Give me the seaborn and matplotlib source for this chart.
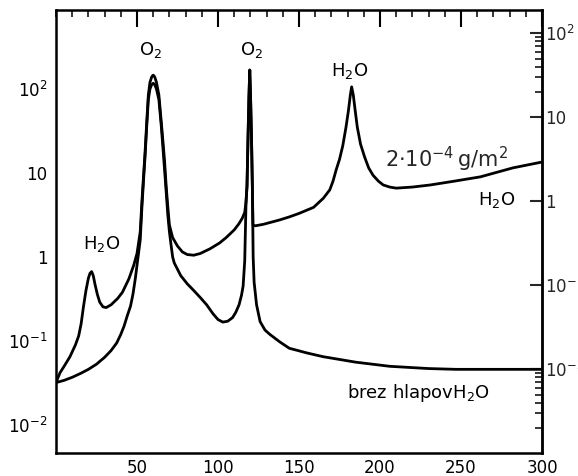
import numpy as np
import pandas as pd
import matplotlib
matplotlib.use("Agg")
import matplotlib.pyplot as plt
import matplotlib.ticker as mticker
import seaborn as sns

# frequency (GHz) and attenuation
# curve with water vapour (2e-4 g/m^2)
freq_vapor = [0, 2.5, 5, 8.6, 12, 14, 15.5, 17, 18.5, 20, 21, 22, 23, 24, 25.5, 27, 29, 31, 34, 38,
              41, 45, 48, 50,
              52, 53, 54, 55, 56, 57, 58, 59, 59.5, 60, 60.5, 61, 62, 63.5, 65, 66, 67, 68, 69, 70,
              72, 75, 78, 81, 85, 89, 95, 101, 105, 110, 113, 115, 116.5, 117.3, 117.9, 118.5, 119.1,
              119.6, 120.1, 120.7, 121.2, 121.6, 123, 128, 138, 144, 150, 159, 165, 169, 171, 173,
              175, 177, 179, 180.5, 181.7, 182.5, 183.5, 184.7, 186, 188, 190.5, 193, 195.7, 199,
              202, 206, 210, 220, 231, 246, 262, 282, 300]
atten_vapor = [0.032, 0.042, 0.05, 0.065, 0.09, 0.115, 0.16, 0.26, 0.4, 0.56, 0.64, 0.67, 0.6, 0.48,
               0.36, 0.29, 0.255, 0.25, 0.27, 0.32,
               0.38, 0.55, 0.8, 1.1,
               2, 4.5, 9, 18, 40, 85, 120, 138, 143, 146, 143, 138, 120, 85, 40, 24, 14, 7, 4, 2.4,
               1.7, 1.35, 1.15, 1.07, 1.05, 1.1, 1.25, 1.47, 1.7, 2.1, 2.5, 2.9, 3.4, 4.5, 7, 25, 80,
               168, 80, 25, 7, 2.4, 2.35, 2.45, 2.76, 3.0, 3.3, 3.9, 5, 6.3, 8, 11,
               14.5, 21, 35, 55, 85, 106, 85, 55, 35, 22, 15.5, 11.5, 9.4, 8,
               7.2, 6.8, 6.6, 6.8, 7.2, 8, 9, 11.5, 13.5]

# curve without water vapour (brez hlapov H2O)
freq_dry = [0, 5, 10, 15, 20, 25, 30, 34, 37.5, 40, 42, 44, 46, 47.5, 49, 50.5,
            52, 53, 54, 55, 56, 57, 58, 59, 60, 61, 62, 63.5, 65, 66, 67, 68, 69, 70, 71, 72, 73,
            77, 81, 85, 89, 93, 97, 100, 103, 106, 109, 111, 113, 114.5, 115.5, 116.5, 117.3,
            117.9, 118.5, 119.1, 119.6, 120.1, 120.7, 121.2, 121.7, 122.3, 123.8, 126, 129, 132,
            138, 144, 155, 165, 185, 206, 230, 247, 270, 300]
atten_dry = [0.032, 0.034, 0.037, 0.041, 0.046, 0.053, 0.064, 0.077, 0.095, 0.12, 0.15, 0.2, 0.26,
             0.36, 0.56, 0.95,
             1.6, 3.8, 8, 16, 36, 75, 100, 112, 117, 112, 100, 75, 36, 20, 11, 6, 3.2, 2, 1.4, 1.0,
             0.85, 0.6, 0.48, 0.4, 0.33, 0.27, 0.21, 0.18, 0.168, 0.172, 0.19, 0.22, 0.27, 0.35,
             0.45, 0.9, 4.5,
             7, 25, 80, 168, 80, 25, 7, 1.0, 0.5, 0.27, 0.17, 0.135, 0.12,
             0.098, 0.082, 0.072, 0.065, 0.056, 0.05, 0.047, 0.046, 0.046, 0.046]

x_ticks = [50, 100, 150, 200, 250, 300]
y_ticks = [1e-2, 1e-1, 1, 10, 1e2]
y_ticklabels = ["$10^{-2}$", "$10^{-1}$", "1", "10", "$10^2$"]
right_factor = 4.6  # right-hand scale is the left one divided by this

sns.set_style("white")
plt.rcParams["font.family"] = ["DejaVu Sans"]
plt.rcParams["mathtext.default"] = "regular"

fig = plt.figure(figsize=(5.78, 4.76), dpi=100)
ax = fig.add_axes([56 / 578, 1 - 453 / 476, (542 - 56) / 578, (453 - 10) / 476])

df_vap = pd.DataFrame({"f": freq_vapor, "a": atten_vapor})
df_dry = pd.DataFrame({"f": freq_dry, "a": atten_dry})
sns.lineplot(data=df_vap, x="f", y="a", ax=ax, color="black", lw=2.0, sort=False, estimator=None)
sns.lineplot(data=df_dry, x="f", y="a", ax=ax, color="black", lw=2.0, sort=False, estimator=None)

ax.set_yscale("log")
ax.set_xlim(0, 300)
ax.set_ylim(10 ** -2.333, 10 ** 2.94)
ax.set_xlabel("")
ax.set_ylabel("")

for s in ax.spines.values():
    s.set_linewidth(1.8)
    s.set_color("black")

ax.xaxis.set_major_locator(mticker.FixedLocator(x_ticks))
ax.xaxis.set_minor_locator(mticker.MultipleLocator(10))
ax.yaxis.set_major_locator(mticker.FixedLocator(y_ticks))
ax.yaxis.set_major_formatter(mticker.FixedFormatter(y_ticklabels))
ax.yaxis.set_minor_locator(mticker.LogLocator(base=10, subs=np.arange(2, 10), numticks=20))
ax.yaxis.set_minor_formatter(mticker.NullFormatter())
ax.tick_params(axis="both", which="major", direction="in", length=12, width=1.5,
               labelsize=12, top=True, right=False, colors="black")
ax.tick_params(axis="both", which="minor", direction="in", length=5, width=1.3,
               top=True, right=False)
ax.tick_params(axis="y", which="major", length=9, pad=6)
ax.tick_params(axis="x", which="major", pad=4)

sec = ax.secondary_yaxis("right", functions=(lambda v: v / right_factor, lambda v: v * right_factor))
sec.yaxis.set_major_locator(mticker.FixedLocator(y_ticks))
sec.yaxis.set_major_formatter(mticker.FixedFormatter(y_ticklabels))
sec.yaxis.set_minor_locator(mticker.FixedLocator([20, 30, 40, 50, 60, 70, 80, 90,
                                                   0.002, 0.003, 0.004, 0.005, 0.006, 0.007, 0.008, 0.009]))
sec.yaxis.set_minor_formatter(mticker.NullFormatter())
sec.tick_params(which="major", direction="in", length=9, width=1.5, labelsize=12, pad=2)
sec.tick_params(which="minor", direction="in", length=5, width=1.3)
sec.spines["right"].set_linewidth(1.8)

txt = dict(ha="center", va="center", fontsize=13, color="black")
ax.text(58.6, 290, "O$_2$", **txt)
ax.text(120.4, 290, "O$_2$", **txt)
ax.text(181.5, 165, "H$_2$O", **txt)
ax.text(28.4, 1.42, "H$_2$O", **txt)
ax.text(272, 4.8, "H$_2$O", **txt)
ax.text(241, 14.5, r"$2{\cdot}10^{-4}\,g/m^2$", ha="center", va="center", fontsize=15)
ax.text(224, 0.024, "brez hlapovH$_2$O", **txt)

fig.savefig("out.png", dpi=100)
